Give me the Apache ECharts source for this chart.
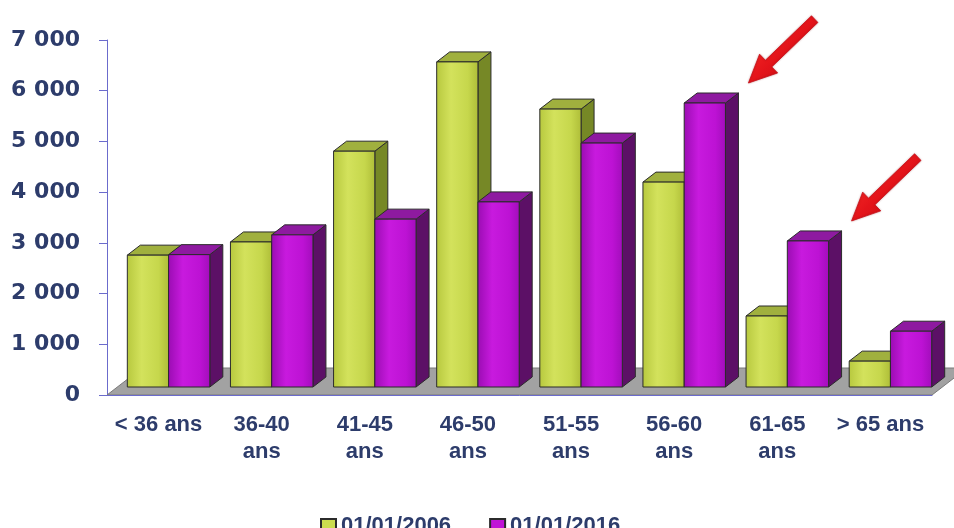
<!DOCTYPE html>
<html>
<head>
<meta charset="utf-8">
<script src="https://cdn.jsdelivr.net/npm/echarts@6/dist/echarts.min.js"></script>
<style>
  html, body { margin: 0; padding: 0; background: #ffffff; }
  #chart { width: 954px; height: 528px; }
</style>
</head>
<body>
<div id="chart"></div>
<script>
// Effectifs par tranche d'âge
const categories = ['< 36 ans', '36-40\nans', '41-45\nans', '46-50\nans', '51-55\nans', '56-60\nans', '61-65\nans', '> 65 ans'];
const values2006 = [2600, 2860, 4650, 6410, 5480, 4040, 1400, 510];
const values2016 = [2610, 3000, 3310, 3650, 4810, 5600, 2880, 1100];
const seriesNames = ['01/01/2006', '01/01/2016'];
// Tranches signalées par une flèche (série 2016)
const highlighted = [5, 6];

// Oblique projection: offset of the bars' front plane and of one bar depth
const FRONT = [10, -8];
const DEPTH = [13, -10];
const FLOOR_DEPTH = [35, -27];

const palettes = [
  { front: ['#b7c83e', '#d3e25c', '#c6d74c', '#aebd38'], side: '#768826', top: '#a0b03e' },
  { front: ['#9a0cb2', '#c81ade', '#bd12d4', '#a20dbb'], side: '#5c1066', top: '#8e1aa0' }
];

function frontGradient(p) {
  return new echarts.graphic.LinearGradient(0, 0, 1, 0, [
    { offset: 0, color: p.front[0] },
    { offset: 0.35, color: p.front[1] },
    { offset: 0.75, color: p.front[2] },
    { offset: 1, color: p.front[3] }
  ]);
}

function barRenderer(pos) {
  const p = palettes[pos];
  return function (params, api) {
    const ci = api.value(0);
    const v = api.value(1);
    const base = api.coord([ci, 0]);
    const top = api.coord([ci, v]);
    const band = api.size([1, 0])[0];
    const w = band * 0.4;
    const x0 = base[0] - w + pos * w + FRONT[0];
    const x1 = x0 + w;
    const yb = base[1] + FRONT[1];
    const yt = top[1] + FRONT[1];
    const dx = DEPTH[0], dy = DEPTH[1];
    const stroke = { stroke: '#2b2b2b', lineWidth: 1, lineJoin: 'round' };
    return {
      type: 'group',
      children: [
        {
          type: 'polygon',
          shape: { points: [[x1, yt], [x1 + dx, yt + dy], [x1 + dx, yb + dy], [x1, yb]] },
          style: Object.assign({ fill: p.side }, stroke)
        },
        {
          type: 'polygon',
          shape: { points: [[x0, yt], [x0 + dx, yt + dy], [x1 + dx, yt + dy], [x1, yt]] },
          style: Object.assign({ fill: p.top }, stroke)
        },
        {
          type: 'rect',
          shape: { x: x0, y: yt, width: w, height: yb - yt },
          style: Object.assign({ fill: frontGradient(p) }, stroke)
        }
      ]
    };
  };
}

function floorRenderer(params, api) {
  const band = api.size([1, 0])[0];
  const first = api.coord([0, 0]);
  const last = api.coord([categories.length - 1, 0]);
  const left = first[0] - band / 2;
  const right = last[0] + band / 2;
  const y0 = first[1];
  const fx = FLOOR_DEPTH[0], fy = FLOOR_DEPTH[1];
  return {
    type: 'polygon',
    shape: { points: [[left, y0], [right, y0], [right + fx, y0 + fy], [left + fx, y0 + fy]] },
    style: { fill: '#a2a2a2', stroke: '#7a7a7a', lineWidth: 1 }
  };
}

// Red arrows pointing at the back top-right corner of a 2016 bar
function arrowRenderer(params, api) {
  const ci = api.value(0);
  const v = api.value(1);
  const top = api.coord([ci, v]);
  const base = api.coord([ci, 0]);
  const band = api.size([1, 0])[0];
  const w = band * 0.4;
  const cx = base[0] + w + FRONT[0] + DEPTH[0];
  const cy = top[1] + FRONT[1] + DEPTH[1];
  const tip = [cx + 10, cy - 10];
  const len = 92;
  const ux = 0.72, uy = -0.694;        // tip -> tail
  const nx = -uy, ny = ux;             // normal
  const headLen = 28, headHalf = 13, shaftHalf = 4.6;
  const hb = [tip[0] + ux * headLen, tip[1] + uy * headLen];
  const tail = [tip[0] + ux * len, tip[1] + uy * len];
  const pts = [
    tip,
    [hb[0] + nx * headHalf, hb[1] + ny * headHalf],
    [hb[0] + nx * shaftHalf, hb[1] + ny * shaftHalf],
    [tail[0] + nx * shaftHalf, tail[1] + ny * shaftHalf],
    [tail[0] - nx * shaftHalf, tail[1] - ny * shaftHalf],
    [hb[0] - nx * shaftHalf, hb[1] - ny * shaftHalf],
    [hb[0] - nx * headHalf, hb[1] - ny * headHalf]
  ];
  return {
    type: 'polygon',
    shape: { points: pts },
    style: {
      fill: new echarts.graphic.LinearGradient(0, 0, 1, 1, [
        { offset: 0, color: '#ff3a30' },
        { offset: 0.5, color: '#e4141a' },
        { offset: 1, color: '#b40c10' }
      ]),
      stroke: '#c8101a',
      lineWidth: 0.8,
      shadowBlur: 2,
      shadowColor: 'rgba(120,0,0,0.35)'
    }
  };
}

const chart = echarts.init(document.getElementById('chart'), null, { renderer: 'canvas' });

const labelColor = '#2d3c6b';
const axisColor = '#6b6bcc';

chart.setOption({
  animation: false,
  backgroundColor: '#ffffff',
  grid: { left: 107, top: 40, width: 825, height: 355, containLabel: false },
  legend: {
    data: seriesNames,
    left: 315,
    top: 510,
    itemWidth: 15,
    itemHeight: 14,
    itemGap: 38,
    icon: 'rect',
    textStyle: { fontFamily: 'Liberation Sans', fontWeight: 'bold', fontSize: 22, color: labelColor }
  },
  xAxis: {
    type: 'category',
    data: categories,
    z: 10,
    axisLine: { lineStyle: { color: axisColor, width: 1 } },
    axisTick: { length: 7, lineStyle: { color: axisColor } },
    axisLabel: {
      interval: 0,
      margin: 16,
      fontFamily: 'Liberation Sans',
      fontWeight: 'bold',
      fontSize: 22,
      lineHeight: 27,
      color: labelColor
    },
    splitLine: { show: false }
  },
  yAxis: {
    type: 'value',
    min: 0,
    max: 7000,
    interval: 1000,
    axisLine: { show: true, lineStyle: { color: axisColor, width: 1 } },
    axisTick: { show: true, length: 8, lineStyle: { color: axisColor } },
    axisLabel: {
      margin: 27,
      fontFamily: 'DejaVu Sans',
      fontWeight: 'bold',
      fontSize: 22,
      color: labelColor,
      formatter: v => String(v).replace(/\B(?=(\d{3})+(?!\d))/g, ' ')
    },
    splitLine: { show: false }
  },
  series: [
    {
      type: 'custom',
      z: 1,
      silent: true,
      renderItem: floorRenderer,
      data: [[0, 0]]
    },
    {
      type: 'custom',
      name: seriesNames[0],
      z: 2,
      renderItem: barRenderer(0),
      itemStyle: { color: '#cbdc4e', borderColor: '#2b2b2b', borderWidth: 1 },
      data: values2006.map((v, i) => [i, v])
    },
    {
      type: 'custom',
      name: seriesNames[1],
      z: 2,
      renderItem: barRenderer(1),
      itemStyle: { color: '#c014d6', borderColor: '#2b2b2b', borderWidth: 1 },
      data: values2016.map((v, i) => [i, v])
    },
    {
      type: 'custom',
      z: 3,
      silent: true,
      renderItem: arrowRenderer,
      data: highlighted.map(i => [i, values2016[i]])
    }
  ]
});
</script>
</body>
</html>
